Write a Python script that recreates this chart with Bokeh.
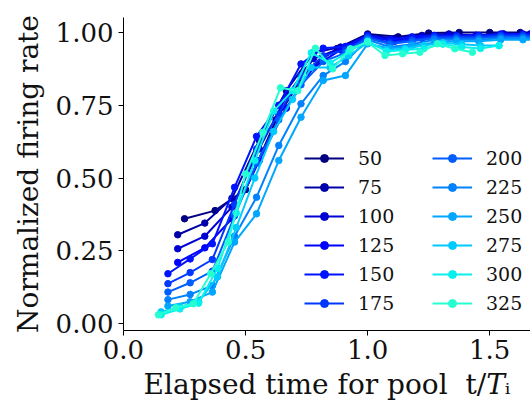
from bokeh.plotting import figure
from bokeh.models import Legend, LegendItem, FixedTicker, Range1d
from bokeh.embed import file_html
from bokeh.resources import INLINE

pool_labels = ["50", "75", "100", "125", "150", "175", "200", "225", "250", "275", "300", "325"]
colors = ["#000080", "#0000a9", "#0000d3", "#0000fc", "#0013ff", "#0038ff",
          "#005dff", "#0082ff", "#00a6ff", "#00cbff", "#08f0ee", "#26ffd1"]

x_n8 = [0.25, 0.375, 0.5, 0.625, 0.75, 0.875, 1.0, 1.125, 1.25, 1.375, 1.5, 1.625, 1.75]
x_n9 = [0.222, 0.333, 0.444, 0.556, 0.667, 0.778, 0.889, 1.0, 1.111, 1.222, 1.333, 1.444, 1.556, 1.667]
x_n11 = [0.182, 0.273, 0.364, 0.455, 0.545, 0.636, 0.727, 0.818, 0.909, 1.0, 1.091, 1.182,
         1.273, 1.364, 1.455, 1.545, 1.636, 1.727]
x_n13 = [0.154, 0.231, 0.308, 0.385, 0.462, 0.538, 0.615, 0.692, 0.769, 0.846, 0.923, 1.0,
         1.077, 1.154, 1.231, 1.308, 1.385, 1.462, 1.538]
x_n14 = [0.143, 0.214, 0.286, 0.357, 0.429, 0.5, 0.571, 0.643, 0.714, 0.786, 0.857, 0.929,
         1.0, 1.071, 1.143, 1.214, 1.286, 1.357, 1.429]

y50 = [0.36, 0.388, 0.46, 0.70, 0.87, 0.945, 0.995, 0.985, 0.998, 1.0, 1.0, 1.0, 1.0]
y75 = [0.305, 0.345, 0.43, 0.63, 0.80, 0.93, 0.95, 0.99, 0.98, 0.99, 0.995, 0.99, 0.995, 0.995]
y100 = [0.257, 0.30, 0.40, 0.60, 0.78, 0.91, 0.945, 0.99, 0.975, 0.985, 0.99, 0.99, 0.995, 0.995]
y125 = [0.21, 0.26, 0.36, 0.56, 0.74, 0.88, 0.94, 0.985, 0.97, 0.98, 0.985, 0.985, 0.99, 0.99]
y150 = [0.171, 0.222, 0.274, 0.468, 0.643, 0.75, 0.892, 0.946, 0.952, 0.99, 0.975, 0.985,
        0.99, 0.99, 0.99, 0.995, 0.995, 0.995]
y175 = [0.137, 0.175, 0.22, 0.41, 0.60, 0.72, 0.85, 0.92, 0.94, 0.985, 0.965, 0.975,
        0.985, 0.985, 0.985, 0.99, 0.99, 0.99]
y200 = [0.108, 0.14, 0.18, 0.37, 0.55, 0.70, 0.82, 0.90, 0.93, 0.98, 0.96, 0.97,
        0.98, 0.98, 0.98, 0.985, 0.985, 0.985]
y225 = [0.082, 0.10, 0.13, 0.30, 0.434, 0.612, 0.755, 0.852, 0.90, 0.975, 0.95, 0.96,
        0.975, 0.975, 0.975, 0.98, 0.98, 0.98]
y250 = [0.06, 0.075, 0.108, 0.28, 0.377, 0.56, 0.709, 0.835, 0.852, 0.961, 0.945, 0.955,
        0.965, 0.97, 0.97, 0.975, 0.975, 0.975]
y275 = [0.04, 0.058, 0.075, 0.16, 0.33, 0.50, 0.66, 0.77, 0.88, 0.88, 0.92, 0.965,
        0.94, 0.945, 0.955, 0.965, 0.96, 0.955, 0.955]
y300 = [0.03, 0.05, 0.07, 0.19, 0.38, 0.56, 0.73, 0.80, 0.93, 0.895, 0.935, 0.97,
        0.935, 0.94, 0.945, 0.96, 0.95, 0.945, 0.955]
y325 = [0.03, 0.054, 0.068, 0.171, 0.28, 0.514, 0.657, 0.81, 0.80, 0.946, 0.875, 0.944,
        0.967, 0.921, 0.927, 0.932, 0.961, 0.944, 0.932]

xs = [x_n8, x_n9, x_n9, x_n9, x_n11, x_n11, x_n11, x_n11, x_n11, x_n13, x_n13, x_n14]
ys = [y50, y75, y100, y125, y150, y175, y200, y225, y250, y275, y300, y325]

FONT = "DejaVu Serif"

p = figure(width=530, height=403, output_backend="svg", toolbar_location=None,
           x_range=Range1d(0, 1.667), y_range=Range1d(-0.024, 1.0515),
           min_border_left=123, min_border_right=0, min_border_top=17, min_border_bottom=73)
p.outline_line_color = None
p.grid.visible = False
p.background_fill_color = "white"
p.border_fill_color = "white"

items = []
for lab, col, x, y in zip(pool_labels, colors, xs, ys):
    r1 = p.line(x, y, line_color=col, line_width=2)
    r2 = p.scatter(x, y, size=6.5, fill_color=col, line_color=col)
    items.append(LegendItem(label=lab, renderers=[r1, r2]))

for ax in (p.xaxis[0], p.yaxis[0]):
    ax.axis_line_color = "black"
    ax.axis_line_width = 1
    ax.major_tick_line_color = "black"
    ax.major_tick_out = 5
    ax.major_tick_in = 0
    ax.minor_tick_line_color = None
    ax.major_label_text_font = FONT
    ax.major_label_text_font_size = "26px"
    ax.major_label_text_color = "#111111"
    ax.axis_label_text_font = FONT
    ax.axis_label_text_font_size = "28px"
    ax.axis_label_text_font_style = "normal"
    ax.axis_label_text_color = "#111111"

p.xaxis.ticker = FixedTicker(ticks=[0, 0.5, 1.0, 1.5])
p.xaxis.major_label_overrides = {0: "0.0", 0.5: "0.5", 1: "1.0", 1.5: "1.5"}
p.yaxis.ticker = FixedTicker(ticks=[0, 0.25, 0.5, 0.75, 1.0])
p.yaxis.major_label_overrides = {0: "0.00", 0.25: "0.25", 0.5: "0.50", 0.75: "0.75", 1: "1.00"}
p.yaxis.axis_label = "Normalized firing rate"
p.yaxis.axis_label_standoff = 8
p.xaxis.major_label_standoff = 4
p.xaxis.axis_label = "Elapsed time for pool\u00a0\u00a0t/\U0001D447\u1D62"
p.xaxis.axis_label_standoff = 6

for cols, xoff in ((items[:6], 181), (items[6:], 309)):
    leg = Legend(items=cols, location=(xoff, 16), orientation="vertical",
                 glyph_width=40, glyph_height=20, label_height=20, spacing=7,
                 label_standoff=14, padding=0, margin=0,
                 label_text_font=FONT, label_text_font_size="19px",
                 label_text_color="#111111",
                 border_line_color=None, background_fill_alpha=0)
    p.add_layout(leg, "center")

open("out.html", "w").write(file_html(p, INLINE))
